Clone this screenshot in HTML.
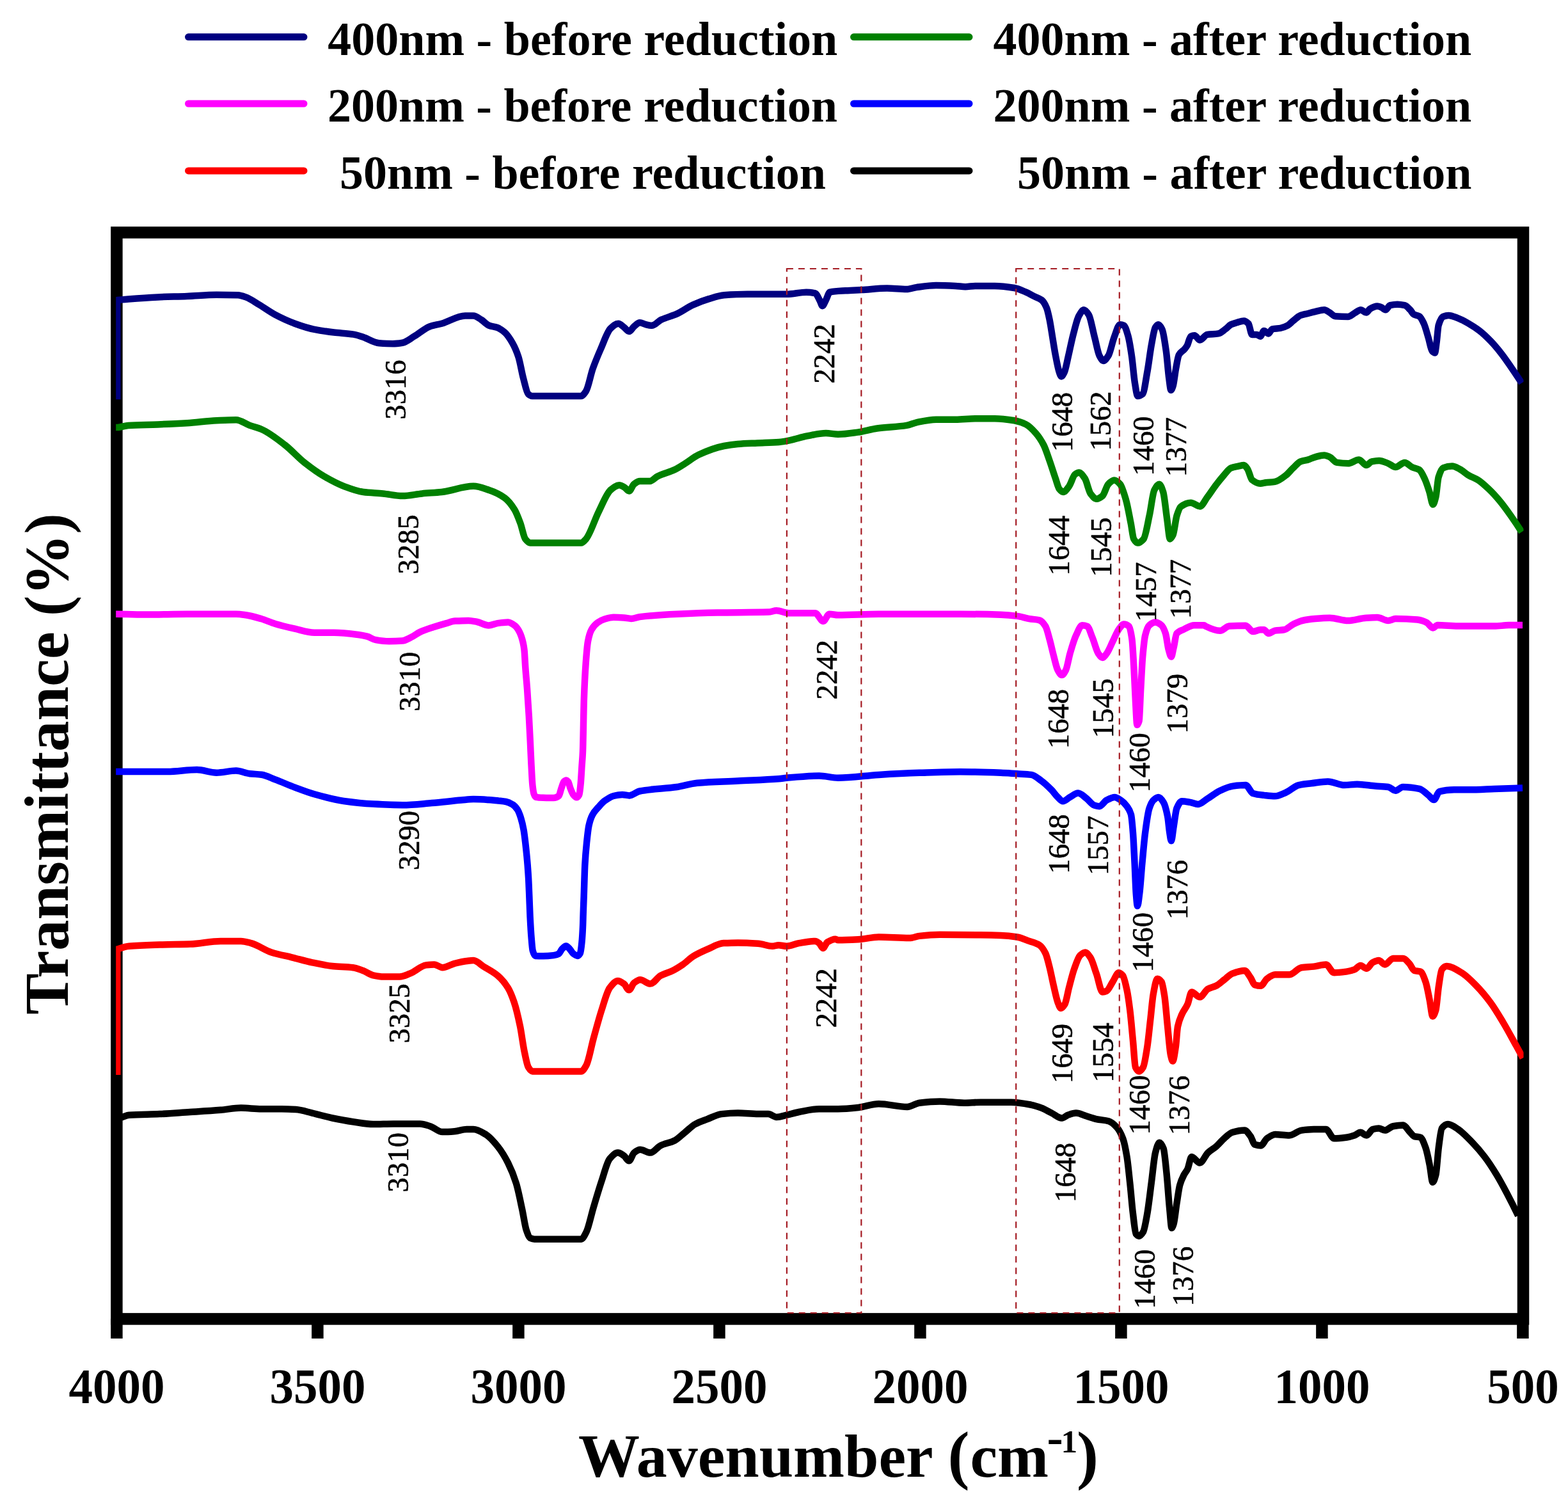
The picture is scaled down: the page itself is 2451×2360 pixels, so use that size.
<!DOCTYPE html>
<html><head><meta charset="utf-8"><title>FTIR spectra</title><style>html,body{margin:0;padding:0;background:#fff}svg{display:block}</style></head><body>
<svg width="2451" height="2360" viewBox="0 0 2451 2360">
<rect width="2451" height="2360" fill="#fff"/>
<g stroke-linecap="round" stroke-width="11" fill="none">
<line x1="294.5" y1="57.8" x2="475" y2="57.8" stroke="#000080"/>
<line x1="294.5" y1="162.0" x2="475" y2="162.0" stroke="#FF00FF"/>
<line x1="294.5" y1="266.9" x2="475" y2="266.9" stroke="#FF0000"/>
<line x1="1334.5" y1="57.8" x2="1515" y2="57.8" stroke="#008000"/>
<line x1="1334.5" y1="162.0" x2="1515" y2="162.0" stroke="#0000FF"/>
<line x1="1334.5" y1="266.9" x2="1515" y2="266.9" stroke="#000000"/>
</g>
<g font-family="'Liberation Serif','Times New Roman',serif" font-weight="bold" font-size="74" fill="#000">
<text x="512.3" y="85.8" xml:space="preserve">400nm - before reduction</text>
<text x="512.0" y="189.9" xml:space="preserve">200nm - before reduction</text>
<text x="531.0" y="294.6" xml:space="preserve">50nm - before reduction</text>
<text x="1552.6" y="85.8" xml:space="preserve">400nm - after reduction</text>
<text x="1552.6" y="189.9" xml:space="preserve">200nm - after reduction</text>
<text x="1590.0" y="294.6" xml:space="preserve">50nm - after reduction</text>
</g>
<rect x="182.4" y="363.4" width="2198.6" height="1698" fill="none" stroke="#000" stroke-width="18.5"/>
<defs><clipPath id="plotclip"><rect x="181.2" y="372" width="2200.3" height="1680"/></clipPath></defs>
<g fill="none" stroke-width="10.5" stroke-linejoin="round" stroke-linecap="butt" clip-path="url(#plotclip)">
<path stroke="#000000" d="M176.0 1747.5 C178.8 1747.5 181.5 1747.5 184.3 1747.5 C190.1 1747.5 196.0 1743.1 201.8 1742.7 C217.7 1741.6 233.6 1741.8 249.5 1741.1 C265.4 1740.4 281.3 1739.0 297.2 1738.0 C313.1 1737.0 329.0 1736.1 344.9 1734.8 C355.5 1733.9 366.1 1731.6 376.7 1731.6 C387.3 1731.6 397.9 1733.2 408.5 1733.2 C419.1 1733.2 429.7 1733.2 440.3 1733.2 C447.7 1733.2 455.1 1733.6 462.5 1734.1 C471.0 1734.7 479.5 1737.6 488.0 1739.6 C498.6 1742.0 509.2 1745.3 519.8 1747.5 C530.4 1749.7 541.0 1751.7 551.6 1753.2 C562.2 1754.7 572.8 1757.0 583.4 1757.0 C594.0 1757.0 604.6 1756.4 615.2 1756.4 C629.0 1756.4 642.7 1756.4 656.5 1756.4 C661.8 1756.4 667.1 1758.5 672.4 1760.2 C678.8 1762.2 685.1 1769.1 691.5 1769.1 C697.8 1769.1 704.2 1768.7 710.5 1768.2 C716.9 1767.7 723.2 1765.0 729.6 1765.0 C733.1 1765.0 736.5 1765.0 740.0 1765.0 C746.4 1765.0 752.7 1769.2 759.1 1772.9 C765.5 1776.6 771.8 1784.1 778.2 1792.0 C783.5 1798.6 788.8 1807.1 794.1 1817.5 C798.3 1825.8 802.6 1835.7 806.8 1849.3 C810.0 1859.5 813.1 1875.9 816.3 1890.6 C818.4 1900.5 820.6 1916.3 822.7 1922.4 C824.8 1928.4 826.9 1934.2 829.0 1935.1 C831.1 1936.1 833.3 1936.7 835.4 1936.7 C859.8 1936.7 884.1 1936.7 908.5 1936.7 C911.2 1936.7 913.8 1930.8 916.5 1925.6 C920.2 1918.4 923.9 1899.8 927.6 1887.4 C931.8 1873.2 936.1 1858.7 940.3 1846.1 C944.5 1833.5 948.8 1816.1 953.0 1811.1 C957.3 1806.1 961.5 1801.6 965.8 1801.6 C969.0 1801.6 972.1 1804.2 975.3 1806.3 C977.9 1808.1 980.6 1814.3 983.2 1814.3 C985.9 1814.3 988.5 1803.7 991.2 1801.6 C994.4 1799.1 997.5 1796.8 1000.7 1796.8 C1006.0 1796.8 1011.3 1801.6 1016.6 1801.6 C1021.9 1801.6 1027.2 1792.9 1032.5 1790.4 C1039.9 1786.8 1047.4 1786.2 1054.8 1782.5 C1060.1 1779.8 1065.4 1774.0 1070.7 1769.8 C1076.0 1765.6 1081.3 1759.9 1086.6 1757.0 C1093.0 1753.5 1099.3 1751.6 1105.7 1749.1 C1113.1 1746.2 1120.5 1741.9 1127.9 1741.1 C1136.4 1740.2 1144.9 1739.6 1153.4 1739.6 C1164.0 1739.6 1174.6 1741.1 1185.2 1741.1 C1190.5 1741.1 1195.7 1741.1 1201.0 1741.1 C1205.3 1741.1 1209.5 1745.9 1213.8 1745.9 C1219.1 1745.9 1224.4 1743.9 1229.7 1742.7 C1236.0 1741.3 1242.4 1739.2 1248.7 1738.0 C1259.3 1736.0 1269.9 1733.2 1280.5 1733.2 C1290.3 1733.2 1300.2 1733.2 1310.0 1733.2 C1320.6 1733.2 1331.2 1732.1 1341.8 1731.0 C1352.4 1729.9 1363.0 1725.2 1373.6 1725.2 C1388.4 1725.2 1403.3 1730.0 1418.1 1730.0 C1424.5 1730.0 1430.8 1724.5 1437.2 1723.7 C1447.8 1722.4 1458.4 1721.4 1469.0 1721.4 C1481.7 1721.4 1494.4 1723.7 1507.1 1723.7 C1515.6 1723.7 1524.1 1722.7 1532.6 1722.7 C1548.5 1722.7 1564.4 1722.7 1580.3 1722.7 C1590.9 1722.7 1601.5 1724.8 1612.1 1726.8 C1617.4 1727.8 1622.7 1729.6 1628.0 1731.6 C1633.3 1733.6 1638.6 1737.0 1643.9 1739.6 C1649.2 1742.2 1654.5 1747.5 1659.8 1747.5 C1663.0 1747.5 1666.1 1743.8 1669.3 1742.7 C1673.5 1741.3 1677.8 1739.6 1682.0 1739.6 C1687.3 1739.6 1692.6 1742.7 1697.9 1744.3 C1703.2 1745.9 1708.5 1747.9 1713.8 1749.1 C1720.2 1750.5 1726.5 1750.5 1732.9 1752.3 C1737.1 1753.5 1741.4 1757.2 1745.6 1761.8 C1748.8 1765.3 1752.0 1770.7 1755.2 1779.3 C1757.3 1784.9 1759.4 1795.2 1761.5 1807.9 C1763.1 1817.6 1764.7 1834.4 1766.3 1849.3 C1767.9 1863.9 1769.4 1884.3 1771.0 1896.9 C1772.6 1909.7 1774.2 1926.8 1775.8 1928.7 C1777.4 1930.6 1779.0 1931.9 1780.6 1931.9 C1782.7 1931.9 1784.8 1929.0 1786.9 1925.6 C1789.0 1922.1 1791.2 1908.8 1793.3 1896.9 C1795.4 1885.0 1797.6 1865.3 1799.7 1849.3 C1801.8 1833.5 1803.9 1809.5 1806.0 1801.6 C1808.1 1793.6 1810.3 1785.7 1812.4 1785.7 C1814.5 1785.7 1816.6 1789.7 1818.7 1795.2 C1820.3 1799.4 1821.9 1818.1 1823.5 1833.4 C1825.1 1848.7 1826.7 1874.4 1828.3 1890.6 C1829.4 1901.4 1830.4 1919.2 1831.5 1919.2 C1832.5 1919.2 1833.6 1915.9 1834.6 1912.8 C1836.2 1907.9 1837.8 1891.0 1839.4 1881.0 C1841.0 1871.0 1842.6 1858.2 1844.2 1852.4 C1846.3 1844.8 1848.4 1840.6 1850.5 1836.5 C1852.5 1832.6 1854.4 1831.1 1856.4 1827.0 C1858.5 1822.6 1860.6 1807.9 1862.7 1807.9 C1866.9 1807.9 1871.2 1817.5 1875.4 1817.5 C1879.7 1817.5 1883.9 1805.6 1888.2 1801.6 C1892.4 1797.6 1896.7 1795.6 1900.9 1792.0 C1905.1 1788.4 1909.4 1782.9 1913.6 1779.3 C1917.8 1775.7 1922.1 1771.0 1926.3 1769.8 C1932.7 1768.0 1939.0 1766.6 1945.4 1766.6 C1948.6 1766.6 1951.7 1771.8 1954.9 1776.1 C1957.0 1779.0 1959.2 1788.1 1961.3 1788.8 C1964.5 1789.8 1967.6 1790.4 1970.8 1790.4 C1974.0 1790.4 1977.2 1781.6 1980.4 1779.3 C1984.6 1776.3 1988.9 1772.9 1993.1 1772.9 C2000.5 1772.9 2007.9 1774.5 2015.3 1774.5 C2021.7 1774.5 2028.0 1767.5 2034.4 1766.6 C2040.8 1765.7 2047.1 1765.0 2053.5 1765.0 C2059.9 1765.0 2066.2 1765.0 2072.6 1765.0 C2076.8 1765.0 2081.1 1779.3 2085.3 1779.3 C2091.7 1779.3 2098.0 1778.5 2104.4 1777.7 C2108.6 1777.1 2112.9 1775.9 2117.1 1774.5 C2120.3 1773.4 2123.4 1769.8 2126.6 1769.8 C2129.8 1769.8 2133.0 1774.5 2136.2 1774.5 C2139.4 1774.5 2142.5 1765.9 2145.7 1765.0 C2148.9 1764.1 2152.0 1763.4 2155.2 1763.4 C2158.4 1763.4 2161.6 1766.6 2164.8 1766.6 C2169.0 1766.6 2173.3 1760.9 2177.5 1760.2 C2182.8 1759.3 2188.1 1758.6 2193.4 1758.6 C2196.6 1758.6 2199.7 1765.0 2202.9 1768.2 C2205.6 1770.9 2208.2 1775.3 2210.9 1776.1 C2214.1 1777.0 2217.2 1776.7 2220.4 1777.7 C2223.1 1778.5 2225.7 1786.3 2228.4 1793.6 C2230.5 1799.4 2232.6 1810.3 2234.7 1820.6 C2236.3 1828.4 2237.9 1847.7 2239.5 1847.7 C2241.1 1847.7 2242.7 1842.5 2244.3 1836.5 C2245.9 1830.6 2247.4 1803.5 2249.0 1792.0 C2250.6 1780.3 2252.2 1765.5 2253.8 1763.4 C2257.0 1759.2 2260.2 1757.0 2263.4 1757.0 C2268.7 1757.0 2274.0 1761.6 2279.3 1765.0 C2286.7 1769.8 2294.1 1778.0 2301.5 1785.7 C2307.9 1792.3 2314.2 1799.6 2320.6 1807.9 C2327.0 1816.2 2333.3 1826.0 2339.7 1836.5 C2345.0 1845.2 2350.3 1855.2 2355.6 1865.2 C2361.4 1876.2 2367.3 1887.9 2373.1 1900.1"/>
<path stroke="#FF0000" d="M183.3 1679.9 L183.3 1483.6 C189.5 1481.6 195.6 1479.3 201.8 1478.8 C217.7 1477.4 233.6 1477.1 249.5 1476.6 C265.4 1476.1 281.3 1476.1 297.2 1475.6 C313.1 1475.1 329.0 1470.9 344.9 1470.9 C355.5 1470.9 366.1 1470.9 376.7 1470.9 C382.0 1470.9 387.3 1472.7 392.6 1474.1 C403.2 1476.9 413.8 1485.0 424.4 1488.4 C435.0 1491.8 445.6 1493.7 456.2 1496.3 C466.8 1498.9 477.4 1502.1 488.0 1504.3 C498.6 1506.5 509.2 1508.9 519.8 1510.0 C530.4 1511.1 541.0 1510.9 551.6 1512.2 C556.9 1512.8 562.2 1515.1 567.5 1517.0 C572.8 1518.9 578.1 1523.2 583.4 1524.3 C588.7 1525.4 594.0 1526.5 599.3 1526.5 C607.8 1526.5 616.2 1526.5 624.7 1526.5 C630.0 1526.5 635.3 1523.7 640.6 1521.7 C649.1 1518.5 657.5 1509.5 666.0 1508.4 C670.2 1507.9 674.5 1507.4 678.7 1507.4 C683.0 1507.4 687.2 1512.2 691.5 1512.2 C697.8 1512.2 704.2 1507.5 710.5 1505.9 C716.9 1504.3 723.2 1502.7 729.6 1502.0 C733.1 1501.6 736.5 1501.1 740.0 1501.1 C745.3 1501.1 750.6 1507.3 755.9 1510.6 C763.3 1515.2 770.8 1518.6 778.2 1524.9 C783.5 1529.4 788.8 1535.3 794.1 1544.0 C797.3 1549.2 800.4 1556.9 803.6 1566.3 C806.8 1575.7 809.9 1589.0 813.1 1604.4 C815.2 1614.8 817.4 1632.4 819.5 1642.6 C821.6 1652.8 823.8 1664.6 825.9 1668.0 C828.0 1671.4 830.1 1674.4 832.2 1674.4 C857.6 1674.4 883.1 1674.4 908.5 1674.4 C911.2 1674.4 913.8 1669.5 916.5 1664.8 C920.2 1658.3 923.9 1636.9 927.6 1623.5 C931.8 1608.2 936.1 1592.1 940.3 1579.0 C944.5 1565.9 948.8 1549.6 953.0 1544.0 C957.3 1538.4 961.5 1532.9 965.8 1532.9 C969.0 1532.9 972.1 1535.3 975.3 1537.6 C977.9 1539.5 980.6 1547.2 983.2 1547.2 C985.9 1547.2 988.5 1538.1 991.2 1536.1 C994.4 1533.7 997.5 1531.3 1000.7 1531.3 C1006.0 1531.3 1011.3 1537.6 1016.6 1537.6 C1021.9 1537.6 1027.2 1527.8 1032.5 1524.9 C1038.9 1521.4 1045.2 1520.1 1051.6 1517.0 C1056.9 1514.4 1062.2 1511.0 1067.5 1507.4 C1072.8 1503.8 1078.1 1498.0 1083.4 1494.7 C1090.8 1490.1 1098.3 1486.8 1105.7 1483.6 C1114.2 1480.0 1122.6 1474.6 1131.1 1474.1 C1138.5 1473.7 1146.0 1473.4 1153.4 1473.4 C1164.0 1473.4 1174.6 1474.0 1185.2 1474.7 C1192.6 1475.2 1200.0 1478.8 1207.4 1478.8 C1210.6 1478.8 1213.7 1477.2 1216.9 1477.2 C1221.2 1477.2 1225.4 1478.8 1229.7 1478.8 C1236.0 1478.8 1242.4 1475.2 1248.7 1474.1 C1257.2 1472.7 1265.7 1470.9 1274.2 1470.9 C1276.3 1470.9 1278.4 1472.5 1280.5 1474.1 C1282.4 1475.5 1284.4 1482.0 1286.3 1482.0 C1288.6 1482.0 1291.0 1474.0 1293.3 1472.5 C1297.5 1469.9 1301.8 1467.7 1306.0 1467.7 C1307.3 1467.7 1308.7 1469.3 1310.0 1469.3 C1320.6 1469.3 1331.2 1468.8 1341.8 1468.3 C1352.4 1467.8 1363.0 1464.5 1373.6 1464.5 C1389.5 1464.5 1405.4 1466.1 1421.3 1466.1 C1426.6 1466.1 1431.9 1463.5 1437.2 1462.9 C1447.8 1461.7 1458.4 1460.7 1469.0 1460.7 C1490.2 1460.7 1511.4 1461.0 1532.6 1461.3 C1543.2 1461.4 1553.8 1461.6 1564.4 1462.0 C1572.9 1462.3 1581.3 1463.2 1589.8 1464.5 C1596.2 1465.5 1602.5 1468.6 1608.9 1470.9 C1614.2 1472.8 1619.5 1473.8 1624.8 1477.2 C1628.0 1479.2 1631.1 1483.7 1634.3 1490.0 C1636.4 1494.3 1638.6 1503.8 1640.7 1512.2 C1642.8 1520.5 1644.9 1531.9 1647.0 1540.8 C1649.1 1549.9 1651.3 1560.7 1653.4 1566.3 C1655.0 1570.5 1656.6 1575.8 1658.2 1575.8 C1660.3 1575.8 1662.4 1572.8 1664.5 1569.4 C1666.6 1566.0 1668.8 1552.1 1670.9 1544.0 C1673.5 1534.0 1676.2 1522.9 1678.8 1515.4 C1682.0 1506.3 1685.2 1496.1 1688.4 1493.1 C1691.0 1490.7 1693.7 1488.4 1696.3 1488.4 C1699.0 1488.4 1701.6 1492.5 1704.3 1496.3 C1707.5 1500.8 1710.6 1512.8 1713.8 1521.7 C1717.0 1530.7 1720.2 1550.4 1723.4 1550.4 C1725.5 1550.4 1727.6 1549.7 1729.7 1548.8 C1732.9 1547.5 1736.1 1539.3 1739.3 1534.5 C1742.5 1529.8 1745.6 1520.2 1748.8 1520.2 C1750.9 1520.2 1753.1 1522.3 1755.2 1524.9 C1757.3 1527.5 1759.4 1537.4 1761.5 1547.2 C1763.1 1554.7 1764.7 1566.2 1766.3 1579.0 C1767.9 1591.6 1769.4 1610.5 1771.0 1626.7 C1772.3 1640.2 1773.6 1665.2 1774.9 1668.0 C1776.8 1672.1 1778.7 1674.4 1780.6 1674.4 C1782.7 1674.4 1784.8 1671.5 1786.9 1668.0 C1789.0 1664.4 1791.2 1649.8 1793.3 1636.2 C1794.9 1626.0 1796.5 1608.8 1798.1 1594.9 C1799.7 1581.3 1801.2 1561.9 1802.8 1553.5 C1804.9 1542.1 1807.1 1529.7 1809.2 1529.7 C1811.3 1529.7 1813.5 1531.6 1815.6 1534.5 C1817.2 1536.6 1818.7 1546.7 1820.3 1556.7 C1821.9 1566.9 1823.5 1589.1 1825.1 1604.4 C1826.7 1619.7 1828.3 1641.9 1829.9 1648.9 C1831.0 1653.6 1832.0 1658.5 1833.1 1658.5 C1834.7 1658.5 1836.2 1646.5 1837.8 1636.2 C1838.9 1629.2 1839.9 1609.6 1841.0 1604.4 C1843.1 1594.0 1845.3 1590.1 1847.4 1585.3 C1850.4 1578.5 1853.4 1576.2 1856.4 1569.4 C1858.5 1564.6 1860.6 1550.4 1862.7 1550.4 C1866.9 1550.4 1871.2 1558.3 1875.4 1558.3 C1879.7 1558.3 1883.9 1547.9 1888.2 1545.6 C1892.4 1543.3 1896.7 1542.9 1900.9 1540.8 C1905.1 1538.7 1909.4 1534.5 1913.6 1531.3 C1917.8 1528.1 1922.1 1523.3 1926.3 1521.7 C1932.7 1519.3 1939.0 1517.0 1945.4 1517.0 C1948.6 1517.0 1951.7 1523.6 1954.9 1528.1 C1957.0 1531.1 1959.2 1538.5 1961.3 1539.2 C1964.5 1540.2 1967.6 1540.8 1970.8 1540.8 C1974.0 1540.8 1977.2 1532.0 1980.4 1529.7 C1984.6 1526.7 1988.9 1523.3 1993.1 1523.3 C2000.5 1523.3 2007.9 1523.3 2015.3 1523.3 C2021.7 1523.3 2028.0 1513.1 2034.4 1512.2 C2040.8 1511.3 2047.1 1511.3 2053.5 1510.6 C2059.9 1509.9 2066.2 1507.4 2072.6 1507.4 C2076.8 1507.4 2081.1 1520.2 2085.3 1520.2 C2091.7 1520.2 2098.0 1519.4 2104.4 1518.6 C2108.6 1518.0 2112.9 1517.0 2117.1 1515.4 C2120.3 1514.2 2123.4 1509.0 2126.6 1509.0 C2129.8 1509.0 2133.0 1513.8 2136.2 1513.8 C2139.4 1513.8 2142.5 1505.9 2145.7 1504.3 C2148.9 1502.7 2152.0 1501.1 2155.2 1501.1 C2158.4 1501.1 2161.6 1507.4 2164.8 1507.4 C2169.0 1507.4 2173.3 1497.9 2177.5 1497.9 C2182.8 1497.9 2188.1 1497.9 2193.4 1497.9 C2196.6 1497.9 2199.7 1502.6 2202.9 1505.9 C2205.6 1508.7 2208.2 1516.2 2210.9 1517.0 C2214.1 1518.0 2217.2 1517.6 2220.4 1518.6 C2223.1 1519.4 2225.7 1527.0 2228.4 1534.5 C2230.5 1540.4 2232.6 1552.8 2234.7 1563.1 C2236.3 1570.9 2237.9 1588.5 2239.5 1588.5 C2241.1 1588.5 2242.7 1584.1 2244.3 1579.0 C2245.9 1574.0 2247.4 1550.8 2249.0 1540.8 C2250.6 1530.5 2252.2 1517.5 2253.8 1515.4 C2256.3 1512.0 2258.9 1510.0 2261.4 1510.0 C2269.0 1510.0 2276.7 1515.5 2284.3 1520.0 C2291.9 1524.4 2299.5 1532.3 2307.1 1540.0 C2314.7 1547.7 2322.4 1556.8 2330.0 1567.1 C2336.7 1576.1 2343.3 1587.4 2350.0 1598.6 C2356.7 1609.8 2363.3 1622.2 2370.0 1634.3 C2373.5 1640.6 2377.0 1647.0 2380.5 1653.5"/>
<path stroke="#0000FF" d="M176.0 1206.1 C178.1 1206.1 180.1 1206.1 182.2 1206.1 C198.5 1206.1 214.9 1206.1 231.2 1206.1 C241.4 1206.1 251.6 1206.1 261.8 1206.1 C277.1 1206.1 292.5 1203.1 307.8 1203.1 C318.0 1203.1 328.2 1207.7 338.4 1207.7 C348.6 1207.7 358.8 1204.6 369.0 1204.6 C376.1 1204.6 383.3 1208.4 390.4 1209.2 C396.5 1209.9 402.7 1209.9 408.8 1210.7 C415.9 1211.6 423.1 1215.7 430.2 1218.4 C440.4 1222.2 450.6 1226.8 460.8 1230.6 C471.0 1234.4 481.2 1238.4 491.4 1241.3 C506.7 1245.6 522.0 1249.9 537.3 1252.0 C552.6 1254.1 568.0 1255.8 583.3 1256.6 C598.6 1257.4 613.9 1258.2 629.2 1258.2 C644.5 1258.2 659.8 1256.3 675.1 1255.1 C690.4 1253.9 705.7 1251.8 721.0 1250.5 C727.3 1250.0 733.7 1249.1 740.0 1249.1 C750.6 1249.1 761.2 1249.9 771.8 1250.7 C774.5 1250.9 777.3 1251.3 780.0 1251.6 C783.7 1252.0 787.3 1252.3 791.0 1253.0 C794.2 1253.6 797.5 1255.1 800.7 1257.1 C803.4 1258.7 806.2 1261.3 808.9 1265.4 C810.7 1268.1 812.6 1273.3 814.4 1279.2 C815.8 1283.7 817.2 1289.3 818.6 1297.1 C819.5 1302.1 820.4 1310.0 821.3 1317.7 C822.2 1325.7 823.2 1334.5 824.1 1345.3 C824.8 1353.0 825.4 1361.2 826.1 1372.8 C826.5 1379.8 826.9 1390.5 827.3 1400.0 C827.7 1410.3 828.2 1424.0 828.6 1432.7 C829.3 1446.1 829.9 1457.2 830.6 1465.3 C831.3 1473.8 832.0 1483.2 832.7 1485.7 C834.0 1490.5 835.4 1493.8 836.7 1493.9 C840.8 1494.2 844.9 1494.3 849.0 1494.3 C854.4 1494.3 859.9 1493.8 865.3 1493.1 C868.0 1492.8 870.8 1492.1 873.5 1490.6 C875.1 1489.7 876.8 1485.0 878.4 1483.3 C880.6 1481.1 882.7 1478.4 884.9 1478.4 C886.8 1478.4 888.7 1481.3 890.6 1483.3 C892.5 1485.3 894.4 1489.2 896.3 1490.6 C898.5 1492.2 900.7 1493.9 902.9 1493.9 C904.2 1493.9 905.6 1492.3 906.9 1489.8 C907.7 1488.2 908.6 1481.4 909.4 1473.5 C909.9 1468.5 910.5 1460.3 911.0 1449.0 C911.3 1443.3 911.5 1432.2 911.8 1424.5 C912.1 1415.8 912.4 1408.5 912.7 1400.0 C913.2 1384.9 913.8 1362.1 914.3 1352.2 C915.2 1335.5 916.1 1326.5 917.0 1317.7 C918.2 1306.2 919.3 1295.4 920.5 1290.2 C922.3 1282.0 924.2 1277.1 926.0 1273.7 C929.2 1267.7 932.4 1264.9 935.6 1261.3 C938.8 1257.7 942.1 1253.9 945.3 1251.6 C949.9 1248.3 954.5 1245.1 959.1 1244.0 C963.7 1242.9 968.2 1242.0 972.8 1242.0 C976.5 1242.0 980.2 1243.4 983.9 1243.4 C989.3 1243.4 994.6 1237.6 1000.0 1236.5 C1019.3 1232.6 1038.7 1232.8 1058.0 1230.0 C1068.6 1228.4 1079.2 1224.6 1089.8 1223.7 C1111.0 1221.9 1132.2 1221.6 1153.4 1220.5 C1174.6 1219.4 1195.7 1219.0 1216.9 1217.3 C1221.2 1217.0 1225.4 1216.1 1229.7 1215.7 C1246.6 1214.2 1263.6 1212.5 1280.5 1212.5 C1290.3 1212.5 1300.2 1215.7 1310.0 1215.7 C1331.2 1215.7 1352.4 1212.2 1373.6 1210.9 C1394.8 1209.6 1416.0 1208.5 1437.2 1207.8 C1458.4 1207.1 1479.6 1206.2 1500.8 1206.2 C1522.0 1206.2 1543.2 1207.0 1564.4 1207.8 C1572.9 1208.1 1581.3 1208.8 1589.8 1209.3 C1597.2 1209.8 1604.7 1209.9 1612.1 1210.9 C1617.4 1211.6 1622.7 1216.7 1628.0 1220.5 C1633.3 1224.3 1638.6 1229.4 1643.9 1234.8 C1647.1 1238.1 1650.2 1242.9 1653.4 1245.9 C1656.1 1248.4 1658.7 1252.3 1661.4 1252.3 C1665.1 1252.3 1668.8 1247.9 1672.5 1245.9 C1676.7 1243.6 1681.0 1239.6 1685.2 1239.6 C1689.4 1239.6 1693.7 1244.4 1697.9 1247.5 C1702.1 1250.6 1706.4 1257.3 1710.6 1258.6 C1713.3 1259.4 1715.9 1260.2 1718.6 1260.2 C1722.3 1260.2 1726.0 1252.7 1729.7 1250.7 C1733.9 1248.5 1738.2 1245.9 1742.4 1245.9 C1745.6 1245.9 1748.8 1248.6 1752.0 1250.7 C1755.2 1252.8 1758.3 1255.9 1761.5 1260.2 C1763.6 1263.1 1765.8 1265.4 1767.9 1272.9 C1768.9 1276.6 1770.0 1288.8 1771.0 1301.6 C1771.9 1312.4 1772.7 1332.1 1773.6 1349.3 C1774.3 1363.9 1775.1 1387.8 1775.8 1396.9 C1776.5 1406.0 1777.3 1416.0 1778.0 1416.0 C1779.1 1416.0 1780.1 1405.1 1781.2 1396.9 C1782.6 1386.1 1784.0 1364.3 1785.4 1349.3 C1787.0 1332.5 1788.5 1313.5 1790.1 1301.6 C1792.2 1285.3 1794.4 1269.8 1796.5 1263.4 C1798.6 1257.1 1800.7 1252.7 1802.8 1250.7 C1805.5 1248.2 1808.1 1245.9 1810.8 1245.9 C1813.4 1245.9 1816.1 1249.7 1818.7 1253.9 C1820.8 1257.3 1823.0 1265.3 1825.1 1276.1 C1826.2 1281.5 1827.2 1295.0 1828.3 1301.6 C1829.1 1306.7 1830.0 1314.3 1830.8 1314.3 C1832.1 1314.3 1833.3 1299.5 1834.6 1292.0 C1836.2 1282.5 1837.8 1267.2 1839.4 1263.4 C1842.1 1257.1 1844.7 1252.3 1847.4 1252.3 C1851.6 1252.3 1855.9 1253.2 1860.1 1253.9 C1864.3 1254.6 1868.6 1257.0 1872.8 1257.0 C1877.6 1257.0 1882.3 1251.5 1887.1 1248.6 C1893.8 1244.5 1900.4 1238.8 1907.1 1235.7 C1913.8 1232.6 1920.4 1229.4 1927.1 1228.6 C1933.8 1227.8 1940.4 1227.1 1947.1 1227.1 C1950.9 1227.1 1954.8 1238.8 1958.6 1240.0 C1964.3 1241.8 1970.0 1242.3 1975.7 1242.9 C1981.4 1243.5 1987.2 1244.3 1992.9 1244.3 C1998.6 1244.3 2004.3 1241.0 2010.0 1238.6 C2016.7 1235.8 2023.3 1228.6 2030.0 1227.1 C2036.7 1225.6 2043.3 1225.1 2050.0 1224.3 C2058.6 1223.2 2067.1 1221.4 2075.7 1221.4 C2084.3 1221.4 2092.8 1227.1 2101.4 1227.1 C2108.1 1227.1 2114.7 1225.7 2121.4 1225.7 C2130.9 1225.7 2140.5 1227.8 2150.0 1228.6 C2156.7 1229.1 2163.3 1229.1 2170.0 1230.0 C2173.8 1230.5 2177.6 1235.7 2181.4 1235.7 C2185.2 1235.7 2189.1 1230.0 2192.9 1230.0 C2201.5 1230.0 2210.0 1231.1 2218.6 1232.9 C2223.4 1233.9 2228.1 1239.2 2232.9 1242.9 C2235.7 1245.1 2238.6 1250.0 2241.4 1250.0 C2244.3 1250.0 2247.1 1237.8 2250.0 1237.1 C2257.6 1235.1 2265.3 1234.3 2272.9 1234.3 C2280.5 1234.3 2288.1 1234.3 2295.7 1234.3 C2309.0 1234.3 2322.4 1233.4 2335.7 1232.9 C2350.5 1232.4 2365.2 1231.9 2380.0 1231.4"/>
<path stroke="#FF00FF" d="M176.0 959.7 C178.1 959.7 180.1 959.7 182.2 959.7 C198.5 959.7 214.9 960.6 231.2 960.6 C251.6 960.6 272.0 959.7 292.4 959.7 C317.9 959.7 343.5 959.7 369.0 959.7 C374.1 959.7 379.2 960.5 384.3 961.2 C392.5 962.3 400.6 964.9 408.8 967.3 C415.9 969.4 423.1 972.9 430.2 975.0 C440.4 978.1 450.6 980.4 460.8 982.7 C471.0 985.0 481.2 988.8 491.4 988.8 C501.6 988.8 511.8 988.8 522.0 988.8 C534.7 988.8 547.3 990.4 560.0 992.0 C564.6 992.6 569.2 993.5 573.8 994.7 C578.4 995.9 582.9 999.4 587.5 1000.2 C594.4 1001.4 601.3 1002.3 608.2 1002.3 C615.1 1002.3 622.0 1002.1 628.9 1001.6 C633.5 1001.3 638.0 998.3 642.6 996.1 C647.2 993.9 651.8 990.0 656.4 987.9 C663.3 984.7 670.2 982.6 677.1 980.3 C684.0 978.0 690.8 976.0 697.7 974.1 C702.3 972.8 706.9 970.9 711.5 970.6 C718.4 970.2 725.3 969.9 732.2 969.9 C736.8 969.9 741.4 971.1 746.0 972.0 C752.0 973.2 757.9 977.5 763.9 977.5 C768.5 977.5 773.0 974.7 777.6 974.1 C783.1 973.3 788.6 972.5 794.1 972.5 C797.8 972.5 801.5 975.3 805.2 978.2 C807.5 980.0 809.8 983.4 812.1 987.9 C813.9 991.5 815.8 996.6 817.6 1004.4 C818.2 1007.1 818.9 1010.3 819.5 1015.8 C820.1 1021.0 820.7 1035.1 821.3 1043.3 C822.2 1056.1 823.2 1065.0 824.1 1077.7 C825.0 1090.0 825.9 1103.5 826.8 1119.1 C827.5 1131.2 828.2 1145.9 828.9 1160.4 C829.4 1171.4 830.0 1185.0 830.5 1195.0 C831.2 1207.5 831.8 1222.0 832.5 1228.0 C833.2 1234.0 833.8 1238.6 834.5 1240.5 C835.5 1243.4 836.5 1245.6 837.5 1245.8 C841.3 1246.5 845.2 1246.6 849.0 1246.7 C854.4 1246.9 859.9 1247.1 865.3 1247.1 C868.0 1247.1 870.8 1246.0 873.5 1243.9 C874.9 1242.9 876.2 1235.3 877.6 1231.6 C878.9 1227.9 880.3 1222.8 881.6 1221.5 C882.7 1220.4 883.8 1219.4 884.9 1219.4 C886.0 1219.4 887.1 1220.5 888.2 1221.8 C889.3 1223.1 890.3 1228.9 891.4 1231.6 C893.0 1235.8 894.7 1240.2 896.3 1242.2 C897.9 1244.2 899.6 1246.3 901.2 1246.3 C902.6 1246.3 903.9 1244.8 905.3 1242.2 C906.1 1240.6 907.0 1232.1 907.8 1223.5 C908.3 1218.0 908.9 1207.2 909.4 1199.0 C909.9 1190.8 910.5 1186.4 911.0 1174.5 C911.6 1160.3 912.3 1109.1 912.9 1091.5 C913.8 1065.5 914.8 1049.0 915.7 1036.4 C916.8 1021.1 918.0 1007.8 919.1 1002.0 C920.9 992.6 922.8 987.3 924.6 984.1 C927.8 978.4 931.1 975.4 934.3 973.1 C938.0 970.5 941.6 968.6 945.3 967.5 C949.9 966.2 954.5 964.8 959.1 964.8 C964.6 964.8 970.1 965.1 975.6 965.5 C979.3 965.7 982.9 966.9 986.6 966.9 C991.1 966.9 995.5 964.7 1000.0 964.1 C1019.3 961.7 1038.7 960.6 1058.0 959.7 C1079.2 958.7 1100.4 957.9 1121.6 957.5 C1148.1 957.0 1174.5 957.3 1201.0 956.6 C1205.3 956.5 1209.5 954.3 1213.8 954.3 C1220.1 954.3 1226.5 958.2 1232.8 958.2 C1246.6 958.2 1260.4 958.2 1274.2 958.2 C1278.4 958.2 1282.7 970.9 1286.9 970.9 C1290.1 970.9 1293.2 959.7 1296.4 959.7 C1300.9 959.7 1305.5 961.3 1310.0 961.3 C1331.2 961.3 1352.4 959.7 1373.6 959.7 C1394.8 959.7 1416.0 959.7 1437.2 959.7 C1458.4 959.7 1479.6 959.7 1500.8 959.7 C1522.0 959.7 1543.2 960.1 1564.4 960.7 C1572.9 961.0 1581.3 961.8 1589.8 962.9 C1596.2 963.7 1602.5 966.0 1608.9 967.1 C1614.2 968.0 1619.5 967.9 1624.8 969.3 C1628.0 970.1 1631.1 973.8 1634.3 978.8 C1636.4 982.2 1638.6 991.8 1640.7 999.5 C1642.8 1007.0 1644.9 1017.0 1647.0 1024.9 C1649.1 1032.9 1651.3 1043.3 1653.4 1047.2 C1655.5 1051.1 1657.7 1055.1 1659.8 1055.1 C1661.9 1055.1 1664.0 1051.2 1666.1 1047.2 C1668.2 1043.1 1670.4 1029.1 1672.5 1021.7 C1675.7 1010.7 1678.8 999.9 1682.0 993.1 C1685.2 986.3 1688.4 977.2 1691.6 977.2 C1694.2 977.2 1696.9 977.8 1699.5 978.8 C1702.2 979.8 1704.8 989.9 1707.5 996.3 C1710.7 1003.9 1713.8 1017.2 1717.0 1021.7 C1719.1 1024.7 1721.3 1028.1 1723.4 1028.1 C1725.5 1028.1 1727.6 1024.5 1729.7 1021.7 C1732.9 1017.5 1736.1 1009.1 1739.3 1002.7 C1742.5 996.4 1745.6 987.8 1748.8 983.6 C1751.4 980.1 1754.1 975.6 1756.7 975.6 C1759.4 975.6 1762.0 976.7 1764.7 978.8 C1766.3 980.1 1767.9 988.3 1769.5 999.5 C1770.5 1006.8 1771.6 1028.8 1772.6 1047.2 C1773.4 1060.8 1774.1 1081.4 1774.9 1094.9 C1775.7 1109.6 1776.6 1133.0 1777.4 1133.0 C1778.5 1133.0 1779.5 1130.6 1780.6 1126.7 C1781.4 1123.6 1782.3 1094.0 1783.1 1079.0 C1784.2 1059.8 1785.2 1037.0 1786.3 1024.9 C1787.6 1010.6 1788.8 998.2 1790.1 993.1 C1792.2 984.5 1794.4 979.0 1796.5 977.2 C1799.7 974.5 1802.8 972.5 1806.0 972.5 C1809.2 972.5 1812.4 974.6 1815.6 977.2 C1817.7 978.9 1819.8 983.7 1821.9 990.0 C1823.5 994.8 1825.1 1009.7 1826.7 1015.4 C1828.1 1020.3 1829.4 1026.5 1830.8 1026.5 C1832.1 1026.5 1833.3 1017.4 1834.6 1012.2 C1836.2 1005.6 1837.8 991.8 1839.4 990.0 C1843.1 985.8 1846.8 985.4 1850.5 983.6 C1855.8 981.1 1861.1 977.2 1866.4 977.2 C1871.7 977.2 1877.0 977.2 1882.3 977.2 C1883.0 977.2 1883.6 978.3 1884.3 978.6 C1891.9 982.3 1899.5 985.7 1907.1 985.7 C1911.9 985.7 1916.6 978.9 1921.4 978.6 C1930.0 978.0 1938.5 977.7 1947.1 977.7 C1950.9 977.7 1954.8 987.1 1958.6 987.1 C1962.4 987.1 1966.2 984.3 1970.0 984.3 C1971.9 984.3 1973.8 984.3 1975.7 984.3 C1978.1 984.3 1980.5 990.0 1982.9 990.0 C1986.2 990.0 1989.6 986.3 1992.9 985.7 C1997.6 984.9 2002.4 985.1 2007.1 984.3 C2011.9 983.5 2016.6 978.0 2021.4 975.7 C2026.2 973.4 2030.9 971.0 2035.7 970.0 C2042.4 968.5 2049.0 967.7 2055.7 967.1 C2063.3 966.4 2071.0 965.7 2078.6 965.7 C2088.1 965.7 2097.6 970.0 2107.1 970.0 C2116.6 970.0 2126.2 966.2 2135.7 965.7 C2141.4 965.4 2147.2 965.1 2152.9 965.1 C2158.6 965.1 2164.3 970.0 2170.0 970.0 C2173.8 970.0 2177.6 967.1 2181.4 967.1 C2192.8 967.1 2204.3 967.6 2215.7 968.6 C2220.5 969.0 2225.2 970.7 2230.0 972.9 C2233.3 974.4 2236.7 981.4 2240.0 981.4 C2242.4 981.4 2244.7 977.1 2247.1 977.1 C2257.6 977.1 2268.1 978.6 2278.6 978.6 C2288.1 978.6 2297.6 978.6 2307.1 978.6 C2316.6 978.6 2326.2 978.6 2335.7 978.6 C2343.3 978.6 2351.0 977.1 2358.6 977.1 C2365.7 977.1 2372.9 977.1 2380.0 977.1"/>
<path stroke="#008000" d="M176.0 668.0 C178.6 668.0 181.2 668.0 183.8 668.0 C189.4 668.0 195.0 665.2 200.6 664.9 C215.9 663.9 231.2 664.0 246.5 663.4 C261.8 662.8 277.1 662.1 292.4 661.2 C307.7 660.3 323.1 657.9 338.4 657.2 C348.6 656.8 358.8 656.3 369.0 656.3 C376.1 656.3 383.3 662.3 390.4 664.9 C396.5 667.1 402.7 668.4 408.8 671.0 C421.0 676.2 433.3 686.1 445.5 695.5 C455.7 703.4 465.9 715.1 476.1 723.1 C486.3 731.1 496.5 738.6 506.7 744.5 C516.9 750.4 527.1 756.0 537.3 759.8 C547.5 763.6 557.8 767.7 568.0 769.0 C578.2 770.3 588.4 770.4 598.6 771.4 C608.8 772.4 619.0 775.1 629.2 775.1 C639.4 775.1 649.6 772.4 659.8 771.4 C670.0 770.4 680.2 770.1 690.4 769.0 C706.9 767.2 723.5 759.8 740.0 759.8 C748.2 759.8 756.3 763.2 764.5 765.9 C772.7 768.6 780.8 772.2 789.0 778.2 C794.1 781.9 799.2 788.2 804.3 796.5 C807.4 801.5 810.4 809.7 813.5 818.0 C816.0 824.9 818.6 839.1 821.1 842.4 C823.7 845.7 826.2 848.6 828.8 848.6 C855.3 848.6 881.9 848.6 908.4 848.6 C910.9 848.6 913.5 845.2 916.0 842.4 C922.6 835.0 929.3 812.7 935.9 799.6 C942.0 787.5 948.2 771.0 954.3 765.9 C958.9 762.1 963.5 758.3 968.1 758.3 C970.6 758.3 973.2 760.0 975.7 761.3 C978.3 762.7 980.8 767.4 983.4 767.4 C985.9 767.4 988.5 758.6 991.0 756.7 C994.1 754.4 997.1 752.1 1000.2 752.1 C1005.3 752.1 1010.4 752.1 1015.5 752.1 C1019.6 752.1 1023.7 746.5 1027.8 744.5 C1037.0 740.0 1046.1 738.2 1055.3 733.8 C1060.4 731.3 1065.5 727.8 1070.6 724.6 C1077.7 720.2 1084.9 714.1 1092.0 710.8 C1105.3 704.6 1118.5 699.5 1131.8 697.0 C1139.0 695.6 1146.1 694.6 1153.3 694.0 C1163.5 693.2 1173.7 692.9 1183.9 692.4 C1195.1 691.9 1206.4 691.7 1217.6 690.9 C1223.7 690.4 1229.8 689.1 1235.9 687.9 C1244.1 686.3 1252.2 683.3 1260.4 681.7 C1270.6 679.8 1280.8 677.1 1291.0 677.1 C1297.3 677.1 1303.7 678.7 1310.0 678.7 C1320.2 678.7 1330.4 677.0 1340.6 675.6 C1350.8 674.2 1361.0 670.9 1371.2 669.5 C1386.5 667.4 1401.8 667.4 1417.1 664.9 C1422.2 664.1 1427.3 661.4 1432.4 660.3 C1442.6 658.2 1452.9 655.7 1463.1 655.7 C1473.3 655.7 1483.5 655.7 1493.7 655.7 C1503.9 655.7 1514.1 654.2 1524.3 654.2 C1534.5 654.2 1544.7 654.2 1554.9 654.2 C1565.1 654.2 1575.3 655.6 1585.5 657.2 C1591.6 658.2 1597.8 660.4 1603.9 663.4 C1609.0 665.9 1614.1 671.3 1619.2 677.1 C1623.3 681.7 1627.3 687.6 1631.4 695.5 C1634.5 701.5 1637.5 711.3 1640.6 720.0 C1643.7 728.7 1646.7 738.8 1649.8 747.6 C1651.8 753.4 1653.9 762.0 1655.9 764.4 C1657.9 766.8 1660.0 769.0 1662.0 769.0 C1665.1 769.0 1668.1 763.9 1671.2 759.8 C1674.3 755.7 1677.3 743.7 1680.4 741.4 C1682.4 739.9 1684.5 738.4 1686.5 738.4 C1689.6 738.4 1692.6 743.1 1695.7 747.6 C1698.8 752.1 1701.8 768.1 1704.9 772.0 C1708.0 775.9 1711.0 779.7 1714.1 779.7 C1717.2 779.7 1720.2 777.6 1723.3 775.1 C1726.3 772.7 1729.4 759.7 1732.4 756.7 C1735.5 753.6 1738.5 750.6 1741.6 750.6 C1744.7 750.6 1747.7 753.4 1750.8 756.7 C1753.9 760.0 1756.9 770.6 1760.0 781.2 C1762.6 790.1 1765.1 804.9 1767.7 818.0 C1769.2 825.7 1770.7 839.8 1772.2 842.4 C1774.3 846.0 1776.3 848.6 1778.4 848.6 C1781.5 848.6 1784.5 845.9 1787.6 842.4 C1790.6 838.9 1793.7 819.5 1796.7 805.7 C1799.3 794.0 1801.8 770.9 1804.4 765.9 C1806.9 760.9 1809.5 756.7 1812.0 756.7 C1814.1 756.7 1816.1 762.6 1818.2 769.0 C1820.2 775.3 1822.3 797.9 1824.3 811.8 C1825.8 822.3 1827.4 842.4 1828.9 842.4 C1830.4 842.4 1832.0 839.4 1833.5 836.3 C1835.5 832.1 1837.6 812.0 1839.6 805.7 C1841.6 799.4 1843.7 793.4 1845.7 791.9 C1850.9 788.0 1856.2 785.7 1861.4 785.7 C1866.2 785.7 1870.9 791.4 1875.7 791.4 C1879.5 791.4 1883.3 782.1 1887.1 777.1 C1891.9 770.8 1896.6 763.3 1901.4 757.1 C1905.2 752.1 1909.1 747.2 1912.9 742.9 C1916.7 738.7 1920.5 732.9 1924.3 731.4 C1928.1 729.9 1931.9 729.4 1935.7 728.6 C1938.6 728.0 1941.4 727.1 1944.3 727.1 C1946.2 727.1 1948.1 730.2 1950.0 732.9 C1952.4 736.2 1954.7 748.1 1957.1 750.0 C1961.4 753.4 1965.7 755.7 1970.0 755.7 C1972.9 755.7 1975.7 754.7 1978.6 754.3 C1983.4 753.7 1988.1 753.7 1992.9 752.9 C1998.6 752.0 2004.3 747.2 2010.0 742.9 C2013.8 740.0 2017.6 734.9 2021.4 731.4 C2025.2 727.8 2029.1 722.9 2032.9 721.4 C2036.7 719.9 2040.5 719.7 2044.3 718.6 C2048.1 717.5 2051.9 715.3 2055.7 714.3 C2060.5 713.0 2065.2 711.4 2070.0 711.4 C2072.9 711.4 2075.7 713.0 2078.6 714.3 C2082.4 716.0 2086.2 722.3 2090.0 722.9 C2095.7 723.8 2101.4 724.3 2107.1 724.3 C2112.8 724.3 2118.6 718.6 2124.3 718.6 C2128.1 718.6 2131.9 727.1 2135.7 727.1 C2138.6 727.1 2141.4 722.0 2144.3 721.4 C2148.1 720.6 2151.9 720.0 2155.7 720.0 C2160.5 720.0 2165.2 722.5 2170.0 724.3 C2173.8 725.7 2177.6 730.0 2181.4 730.0 C2186.2 730.0 2190.9 722.9 2195.7 722.9 C2199.5 722.9 2203.3 728.2 2207.1 730.0 C2210.9 731.8 2214.8 731.9 2218.6 734.3 C2221.4 736.1 2224.3 742.6 2227.1 748.6 C2229.5 753.7 2231.9 761.1 2234.3 768.6 C2236.2 774.5 2238.1 788.6 2240.0 788.6 C2241.4 788.6 2242.9 782.7 2244.3 777.1 C2245.7 771.5 2247.2 750.4 2248.6 745.7 C2251.0 737.9 2253.3 732.3 2255.7 731.4 C2260.5 729.5 2265.2 728.6 2270.0 728.6 C2273.8 728.6 2277.6 731.1 2281.4 732.9 C2286.2 735.2 2290.9 740.1 2295.7 742.9 C2300.5 745.7 2305.2 747.1 2310.0 750.0 C2315.7 753.5 2321.4 758.9 2327.1 764.3 C2332.8 769.7 2338.6 776.1 2344.3 782.9 C2350.0 789.7 2355.7 797.7 2361.4 805.7 C2367.1 813.8 2372.9 822.4 2378.6 831.4"/>
<path stroke="#000080" d="M183.3 624.3 L183.3 469.0 C189.1 468.4 194.8 467.9 200.6 467.4 C215.9 466.2 231.2 465.1 246.5 464.4 C261.8 463.7 277.1 463.5 292.4 462.9 C307.7 462.3 323.1 460.7 338.4 460.7 C349.6 460.7 360.8 460.9 372.0 461.3 C376.1 461.5 380.2 463.0 384.3 464.4 C391.4 466.8 398.6 472.4 405.7 476.6 C413.9 481.5 422.0 487.6 430.2 491.9 C440.4 497.3 450.6 502.0 460.8 505.7 C471.0 509.4 481.2 512.9 491.4 514.9 C501.6 516.9 511.8 518.3 522.0 519.5 C532.2 520.7 542.5 521.0 552.7 522.6 C557.8 523.4 562.9 525.4 568.0 527.1 C576.1 529.8 584.3 535.7 592.4 536.3 C599.6 536.8 606.7 537.2 613.9 537.2 C619.0 537.2 624.1 536.5 629.2 535.7 C635.3 534.7 641.5 529.2 647.6 525.6 C655.7 520.9 663.9 513.2 672.0 510.3 C678.1 508.2 684.3 507.4 690.4 505.7 C702.6 502.3 714.9 493.5 727.1 493.5 C731.4 493.5 735.7 493.5 740.0 493.5 C744.1 493.5 748.1 497.2 752.2 499.6 C756.3 502.1 760.4 507.3 764.5 508.8 C768.6 510.3 772.6 510.4 776.7 511.8 C780.8 513.2 784.9 516.0 789.0 519.5 C793.1 523.0 797.1 529.2 801.2 536.3 C804.3 541.7 807.3 548.4 810.4 557.8 C813.0 565.7 815.5 581.9 818.1 591.4 C820.6 600.8 823.2 613.7 825.7 615.9 C827.7 617.6 829.8 619.0 831.8 619.0 C857.3 619.0 882.9 619.0 908.4 619.0 C910.9 619.0 913.5 615.1 916.0 611.3 C919.6 605.9 923.1 586.2 926.7 576.1 C930.8 564.4 934.9 554.9 939.0 545.5 C944.1 533.9 949.2 518.3 954.3 513.4 C958.4 509.5 962.4 505.7 966.5 505.7 C969.6 505.7 972.6 509.6 975.7 511.8 C978.3 513.7 980.8 518.0 983.4 518.0 C985.9 518.0 988.5 512.3 991.0 510.3 C994.1 507.8 997.1 504.2 1000.2 504.2 C1003.3 504.2 1006.3 506.5 1009.4 507.2 C1012.5 507.9 1015.5 508.8 1018.6 508.8 C1023.7 508.8 1028.8 502.0 1033.9 499.6 C1042.1 495.8 1050.2 494.1 1058.4 490.4 C1066.6 486.7 1074.7 480.3 1082.9 476.6 C1091.0 472.9 1099.2 469.8 1107.3 467.4 C1115.5 465.0 1123.6 461.9 1131.8 461.3 C1144.1 460.4 1156.3 459.8 1168.6 459.8 C1178.8 459.8 1189.0 459.8 1199.2 459.8 C1209.4 459.8 1219.6 459.8 1229.8 459.8 C1240.0 459.8 1250.2 456.7 1260.4 456.7 C1265.0 456.7 1269.6 457.2 1274.2 458.3 C1276.7 458.9 1279.3 465.8 1281.8 470.5 C1283.0 472.8 1284.3 478.2 1285.5 478.2 C1287.3 478.2 1289.2 472.3 1291.0 469.0 C1293.0 465.3 1295.1 457.2 1297.1 456.7 C1305.3 454.8 1313.4 454.8 1321.6 454.3 C1330.0 453.8 1338.3 453.5 1346.7 453.1 C1360.0 452.4 1373.2 450.6 1386.5 450.6 C1396.7 450.6 1406.9 452.1 1417.1 452.1 C1422.2 452.1 1427.3 449.8 1432.4 449.1 C1442.6 447.7 1452.9 446.0 1463.1 446.0 C1473.3 446.0 1483.5 446.4 1493.7 446.9 C1498.8 447.1 1503.9 448.2 1509.0 448.2 C1514.1 448.2 1519.2 446.9 1524.3 446.9 C1534.5 446.9 1544.7 446.9 1554.9 446.9 C1565.1 446.9 1575.3 448.3 1585.5 450.0 C1591.6 451.0 1597.8 454.1 1603.9 456.7 C1608.0 458.4 1612.0 460.9 1616.1 462.9 C1620.2 465.0 1624.3 465.8 1628.4 469.0 C1630.9 471.0 1633.5 475.2 1636.0 481.2 C1637.5 484.8 1639.1 492.3 1640.6 499.6 C1642.1 506.9 1643.7 517.9 1645.2 527.1 C1646.7 536.3 1648.3 546.8 1649.8 554.7 C1651.8 565.2 1653.9 576.8 1655.9 582.2 C1656.9 584.9 1658.0 588.4 1659.0 588.4 C1660.5 588.4 1662.1 585.2 1663.6 582.2 C1665.6 578.2 1667.7 566.3 1669.7 557.8 C1672.2 547.2 1674.8 533.8 1677.3 524.1 C1680.4 512.4 1683.4 498.8 1686.5 493.5 C1689.1 489.0 1691.6 484.3 1694.2 484.3 C1696.7 484.3 1699.3 488.0 1701.8 491.9 C1704.9 496.7 1707.9 515.4 1711.0 527.1 C1713.6 536.9 1716.1 551.4 1718.7 556.2 C1720.7 560.0 1722.8 563.9 1724.8 563.9 C1727.3 563.9 1729.9 560.0 1732.4 556.2 C1735.5 551.6 1738.5 535.0 1741.6 527.1 C1744.7 519.2 1747.7 507.2 1750.8 507.2 C1752.8 507.2 1754.9 507.8 1756.9 508.8 C1759.0 509.8 1761.0 517.0 1763.1 524.1 C1765.1 531.0 1767.2 543.9 1769.2 557.8 C1770.7 568.2 1772.3 588.3 1773.8 597.6 C1775.3 606.9 1776.9 619.0 1778.4 619.0 C1780.9 619.0 1783.5 617.8 1786.0 615.9 C1788.6 614.0 1791.1 593.4 1793.7 579.2 C1795.7 567.9 1797.8 550.3 1799.8 539.4 C1801.8 528.5 1803.9 515.0 1805.9 511.8 C1807.4 509.4 1809.0 507.2 1810.5 507.2 C1812.5 507.2 1814.6 510.7 1816.6 514.9 C1818.7 519.1 1820.7 534.1 1822.8 548.6 C1824.3 559.1 1825.8 580.6 1827.3 591.4 C1828.3 598.8 1829.4 609.8 1830.4 609.8 C1831.4 609.8 1832.5 606.7 1833.5 603.7 C1835.0 599.3 1836.6 584.1 1838.1 576.1 C1839.6 568.1 1841.2 557.4 1842.7 554.7 C1845.7 549.3 1848.8 549.2 1851.8 545.5 C1853.1 543.9 1854.4 542.3 1855.7 540.0 C1857.6 536.6 1859.5 526.6 1861.4 525.7 C1863.3 524.8 1865.2 524.3 1867.1 524.3 C1870.0 524.3 1872.8 531.4 1875.7 531.4 C1879.5 531.4 1883.3 523.5 1887.1 522.9 C1892.8 522.0 1898.6 522.3 1904.3 521.4 C1908.1 520.8 1911.9 517.0 1915.7 514.3 C1918.6 512.2 1921.4 508.4 1924.3 507.1 C1927.2 505.8 1930.0 505.1 1932.9 504.3 C1936.7 503.2 1940.5 501.4 1944.3 501.4 C1946.7 501.4 1949.0 503.3 1951.4 505.7 C1953.3 507.7 1955.2 522.9 1957.1 522.9 C1959.5 522.9 1961.9 522.9 1964.3 522.9 C1966.2 522.9 1968.1 525.7 1970.0 525.7 C1971.9 525.7 1973.8 517.1 1975.7 517.1 C1978.1 517.1 1980.5 521.4 1982.9 521.4 C1984.8 521.4 1986.7 514.7 1988.6 514.3 C1992.9 513.3 1997.1 513.6 2001.4 512.9 C2005.2 512.2 2009.1 510.6 2012.9 508.6 C2015.7 507.1 2018.6 503.6 2021.4 501.4 C2025.2 498.4 2029.1 494.3 2032.9 492.9 C2036.7 491.5 2040.5 491.0 2044.3 490.0 C2048.1 489.0 2051.9 487.9 2055.7 487.1 C2060.5 486.0 2065.2 484.3 2070.0 484.3 C2072.9 484.3 2075.7 487.0 2078.6 488.6 C2081.4 490.2 2084.3 494.1 2087.1 494.3 C2093.8 494.7 2100.4 494.9 2107.1 494.9 C2110.9 494.9 2114.8 490.6 2118.6 488.6 C2121.4 487.1 2124.3 484.3 2127.1 484.3 C2130.0 484.3 2132.8 488.6 2135.7 488.6 C2137.6 488.6 2139.5 484.0 2141.4 482.9 C2145.2 480.7 2149.1 478.6 2152.9 478.6 C2154.8 478.6 2156.7 479.3 2158.6 480.0 C2161.0 480.8 2163.3 484.3 2165.7 484.3 C2168.1 484.3 2170.5 477.7 2172.9 477.1 C2176.7 476.2 2180.5 475.7 2184.3 475.7 C2188.1 475.7 2191.9 476.3 2195.7 477.1 C2198.6 477.7 2201.4 481.4 2204.3 484.3 C2206.2 486.2 2208.1 490.4 2210.0 491.4 C2212.9 493.0 2215.7 492.7 2218.6 494.3 C2221.0 495.6 2223.3 500.7 2225.7 505.7 C2228.1 510.8 2230.5 520.6 2232.9 528.6 C2234.8 535.0 2236.7 546.6 2238.6 548.6 C2240.0 550.1 2241.5 551.4 2242.9 551.4 C2243.8 551.4 2244.8 541.0 2245.7 534.3 C2246.7 527.3 2247.6 512.0 2248.6 508.6 C2251.0 500.4 2253.3 495.9 2255.7 494.9 C2258.6 493.7 2261.4 492.9 2264.3 492.9 C2269.1 492.9 2273.8 495.3 2278.6 497.1 C2284.3 499.2 2290.0 502.4 2295.7 505.7 C2301.4 509.0 2307.2 512.7 2312.9 517.1 C2318.6 521.5 2324.3 527.0 2330.0 532.9 C2335.7 538.8 2341.4 545.6 2347.1 552.9 C2351.9 559.0 2356.6 566.0 2361.4 572.9 C2367.1 581.2 2372.9 589.7 2378.6 598.6"/>
</g>
<g fill="none" stroke="#A51C24" stroke-width="2.2" stroke-dasharray="10 8">
<rect x="1229.9" y="420" width="116.4" height="1632"/>
<rect x="1588.2" y="420" width="161.6" height="1632"/>
</g>
<g stroke="#000" stroke-width="18.5">
<line x1="182.4" y1="2061" x2="182.4" y2="2092"/>
<line x1="496.4" y1="2061" x2="496.4" y2="2092"/>
<line x1="810.4" y1="2061" x2="810.4" y2="2092"/>
<line x1="1124.4" y1="2061" x2="1124.4" y2="2092"/>
<line x1="1438.4" y1="2061" x2="1438.4" y2="2092"/>
<line x1="1752.4" y1="2061" x2="1752.4" y2="2092"/>
<line x1="2066.4" y1="2061" x2="2066.4" y2="2092"/>
<line x1="2380.4" y1="2061" x2="2380.4" y2="2092"/>
</g>
<g font-family="'Liberation Serif','Times New Roman',serif" font-weight="bold" font-size="75" text-anchor="middle" fill="#000">
<text x="182.4" y="2193" transform="translate(0 2193) scale(1 1.045) translate(0 -2193)">4000</text>
<text x="496.4" y="2193" transform="translate(0 2193) scale(1 1.045) translate(0 -2193)">3500</text>
<text x="810.4" y="2193" transform="translate(0 2193) scale(1 1.045) translate(0 -2193)">3000</text>
<text x="1124.4" y="2193" transform="translate(0 2193) scale(1 1.045) translate(0 -2193)">2500</text>
<text x="1438.4" y="2193" transform="translate(0 2193) scale(1 1.045) translate(0 -2193)">2000</text>
<text x="1752.4" y="2193" transform="translate(0 2193) scale(1 1.045) translate(0 -2193)">1500</text>
<text x="2066.4" y="2193" transform="translate(0 2193) scale(1 1.045) translate(0 -2193)">1000</text>
<text x="2380.4" y="2193" transform="translate(0 2193) scale(1 1.045) translate(0 -2193)">500</text>
</g>
<text y="2307.5" font-family="'Liberation Serif','Times New Roman',serif" font-weight="bold" font-size="96"><tspan x="904">Wavenumber</tspan><tspan x="1481.5" font-size="102">(</tspan><tspan x="1516.5">cm</tspan><tspan x="1636.5" y="2271.5" font-size="76">-</tspan><tspan x="1658.4" y="2269.8" font-size="51.5">1</tspan><tspan x="1683" y="2307.5" font-size="102">)</tspan></text>
<text transform="translate(106.4 1585.8) rotate(-90)" font-family="'Liberation Serif','Times New Roman',serif" font-weight="bold" font-size="96.5">Transmittance (%)</text>
<g font-family="'Liberation Serif','Times New Roman',serif" font-weight="normal" font-size="46.7" fill="#000" stroke="#000" stroke-width="0.6" text-anchor="middle">
<text transform="translate(634.2 609.0) rotate(-90)">3316</text>
<text transform="translate(1304.1 552.8) rotate(-90)">2242</text>
<text transform="translate(1676.3 659.5) rotate(-90)">1648</text>
<text transform="translate(1736.0 658.0) rotate(-90)">1562</text>
<text transform="translate(1803.3 697.0) rotate(-90)">1460</text>
<text transform="translate(1853.8 698.5) rotate(-90)">1377</text>
<text transform="translate(653.6 850.8) rotate(-90)">3285</text>
<text transform="translate(1671.2 852.7) rotate(-90)">1644</text>
<text transform="translate(1737.0 855.0) rotate(-90)">1545</text>
<text transform="translate(1807.1 925.0) rotate(-90)">1457</text>
<text transform="translate(1860.7 920.5) rotate(-90)">1377</text>
<text transform="translate(655.7 1065.3) rotate(-90)">3310</text>
<text transform="translate(1308.1 1046.7) rotate(-90)">2242</text>
<text transform="translate(1669.8 1123.5) rotate(-90)">1648</text>
<text transform="translate(1739.8 1106.8) rotate(-90)">1545</text>
<text transform="translate(1797.0 1191.8) rotate(-90)">1460</text>
<text transform="translate(1855.8 1099.7) rotate(-90)">1379</text>
<text transform="translate(655.2 1313.5) rotate(-90)">3290</text>
<text transform="translate(1671.4 1319.0) rotate(-90)">1648</text>
<text transform="translate(1731.8 1321.4) rotate(-90)">1557</text>
<text transform="translate(1801.8 1472.7) rotate(-90)">1460</text>
<text transform="translate(1855.8 1390.5) rotate(-90)">1376</text>
<text transform="translate(639.5 1583.8) rotate(-90)">3325</text>
<text transform="translate(1306.5 1559.9) rotate(-90)">2242</text>
<text transform="translate(1676.2 1646.5) rotate(-90)">1649</text>
<text transform="translate(1739.8 1645.0) rotate(-90)">1554</text>
<text transform="translate(1797.0 1726.8) rotate(-90)">1460</text>
<text transform="translate(1859.0 1727.6) rotate(-90)">1376</text>
<text transform="translate(637.9 1816.7) rotate(-90)">3310</text>
<text transform="translate(1680.9 1832.5) rotate(-90)">1648</text>
<text transform="translate(1805.4 1999.0) rotate(-90)">1460</text>
<text transform="translate(1864.8 1994.7) rotate(-90)">1376</text>
</g>
</svg></body></html>
